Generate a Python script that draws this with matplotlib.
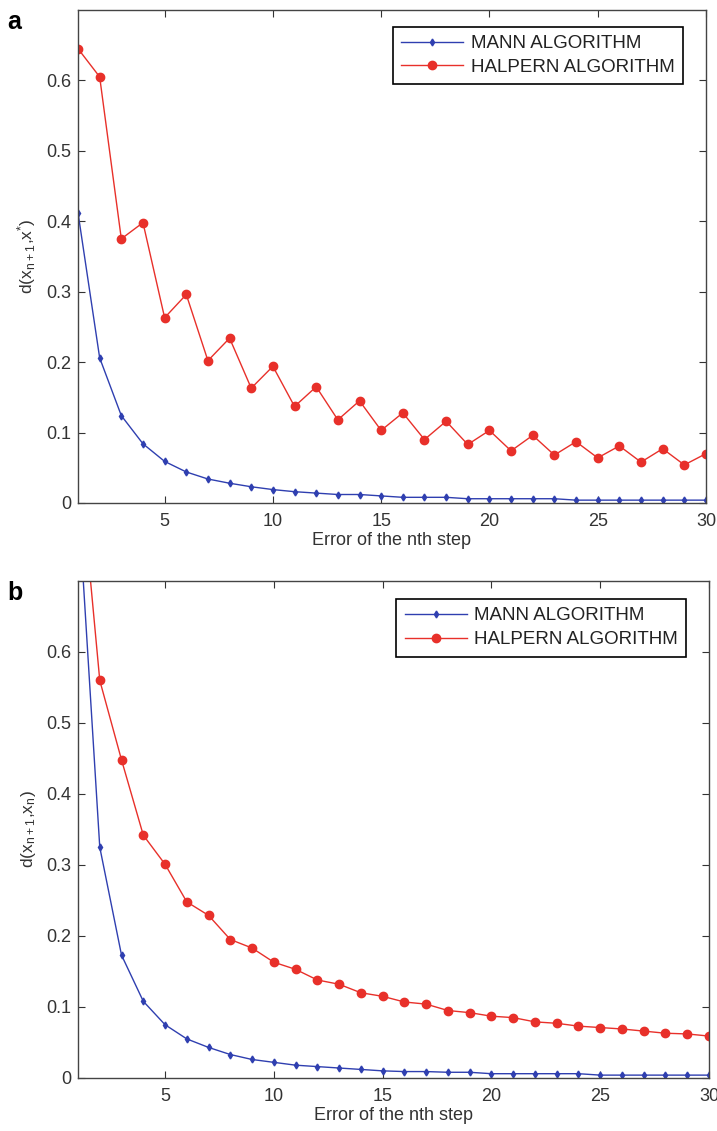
import numpy as np
import matplotlib
matplotlib.use("Agg")
import matplotlib.pyplot as plt

plt.rcParams['font.family'] = ['Liberation Sans', 'DejaVu Sans']
plt.rcParams['mathtext.default'] = 'regular'

steps = np.arange(1, 31)

# panel a: d(x_{n+1}, x*)
mann_a = [0.412, 0.206, 0.124, 0.084, 0.059, 0.044, 0.034, 0.028, 0.023, 0.019,
          0.016, 0.014, 0.012, 0.012, 0.010, 0.008, 0.008, 0.008, 0.006, 0.006,
          0.006, 0.006, 0.006, 0.004, 0.004, 0.004, 0.004, 0.004, 0.004, 0.004]
halpern_a = [0.645, 0.605, 0.375, 0.398, 0.263, 0.296, 0.202, 0.234, 0.163, 0.194,
             0.137, 0.165, 0.118, 0.145, 0.103, 0.128, 0.090, 0.116, 0.083, 0.103,
             0.074, 0.096, 0.068, 0.087, 0.064, 0.081, 0.058, 0.077, 0.054, 0.070]

# panel b: d(x_{n+1}, x_n)
mann_b = [0.82, 0.325, 0.173, 0.108, 0.075, 0.055, 0.043, 0.033, 0.026, 0.022,
          0.018, 0.016, 0.014, 0.012, 0.010, 0.009, 0.009, 0.008, 0.008, 0.006,
          0.006, 0.006, 0.006, 0.006, 0.004, 0.004, 0.004, 0.004, 0.004, 0.004]
halpern_b = [0.89, 0.560, 0.448, 0.342, 0.301, 0.248, 0.229, 0.195, 0.183, 0.163,
             0.153, 0.138, 0.132, 0.120, 0.115, 0.107, 0.104, 0.095, 0.092, 0.087,
             0.085, 0.079, 0.077, 0.073, 0.071, 0.069, 0.066, 0.063, 0.062, 0.059]

yticks = [0, 0.1, 0.2, 0.3, 0.4, 0.5, 0.6]
ytick_labels = ['0', '0.1', '0.2', '0.3', '0.4', '0.5', '0.6']
xticks = [5, 10, 15, 20, 25, 30]

blue = '#2f3fb0'
red = '#e8302a'
grey = '#333333'

fig = plt.figure(figsize=(7.17, 11.31), dpi=100)
ax_a = fig.add_axes([0.1088, 0.5553, 0.8758, 0.4359])
ax_b = fig.add_axes([0.1088, 0.0469, 0.8800, 0.4394])


def draw(ax, mann, halpern, ylab, letter, anchor):
    ax.plot(steps, mann, '-', color=blue, lw=1.0, marker='d', ms=3.5,
            mfc=blue, mec=blue, label='MANN ALGORITHM')
    ax.plot(steps, halpern, '-', color=red, lw=1.0, marker='o', ms=6.0,
            mfc=red, mec=red, label='HALPERN ALGORITHM')
    ax.set_xlim(1, 30)
    ax.set_ylim(0, 0.7)
    ax.set_xticks(xticks)
    ax.set_yticks(yticks)
    ax.set_yticklabels(ytick_labels)
    ax.tick_params(direction='in', top=True, right=True, length=5,
                   labelsize=13, colors=grey, labelcolor=grey)
    ax.tick_params(axis='x', pad=7)
    ax.tick_params(axis='y', pad=5)
    for s in ax.spines.values():
        s.set_color('#444444')
        s.set_linewidth(1.0)
    ax.set_xlabel('Error of the nth step', fontsize=13, color=grey, labelpad=2)
    ax.set_ylabel(ylab, fontsize=12.5, color=grey, labelpad=6)
    leg = ax.legend(loc='upper right', fontsize=13.5, fancybox=False,
                    edgecolor='black', framealpha=1, borderpad=0.45,
                    handlelength=3.3, handletextpad=0.4, labelspacing=0.35,
                    bbox_to_anchor=anchor)
    leg.get_frame().set_linewidth(1.2)
    for t in leg.get_texts():
        t.set_color('#222222')
    ax.text(-0.112, 1.0, letter, transform=ax.transAxes, fontsize=18,
            fontweight='bold', va='top', ha='left')


draw(ax_a, mann_a, halpern_a, r'd(x$_{n+1}$,x$^{*}$)', 'a', (0.978, 0.985))
draw(ax_b, mann_b, halpern_b, r'd(x$_{n+1}$,x$_{n}$)', 'b', (0.979, 0.983))

fig.savefig('out.png', dpi=100)
